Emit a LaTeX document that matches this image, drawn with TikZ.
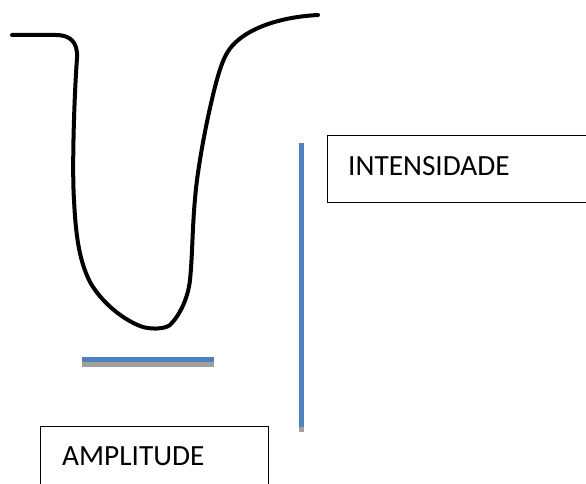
\documentclass[tikz,border=0pt]{standalone}
\usepackage{fontspec}
\setmainfont{Carlito}
\definecolor{barblue}{RGB}{79,129,189}
\definecolor{shadowgray}{RGB}{160,160,160}
\tikzset{
  curve/.style={line width=4pt, line cap=round, line join=round},
  label box/.style={draw=black, line width=1.3pt, anchor=north west, inner sep=0pt},
  label text/.style={anchor=base west, font=\fontsize{29.3}{33}\selectfont, inner sep=0pt},
  bar/.style={line width=5.5pt, barblue},
  barshadow/.style={line width=5.5pt, shadowgray},
}
\begin{document}
\begin{tikzpicture}[x=1pt,y=-1pt]
\useasboundingbox (0,0) rectangle (586,484);
% curve
\draw[curve] (12,35) -- (56,35)
  .. controls (70,35) and (78,42) .. (77,58)
  .. controls (74,100) and (72,170) .. (74,200)
  .. controls (76,240) and (80,262) .. (90,282)
  .. controls (100,300) and (120,318) .. (140,326)
  .. controls (150,330) and (165,329) .. (170,325)
  .. controls (180,315) and (188,298) .. (190,280)
  .. controls (193,250) and (192,220) .. (197,180)
  .. controls (201,150) and (207,120) .. (213,95)
  .. controls (219,70) and (224,55) .. (232,46)
  .. controls (248,28) and (280,17) .. (318,15);
% horizontal bar with shadow
\coordinate (hL) at (82,359.5);
\coordinate (hR) at (214,359.5);
\coordinate (hLs) at (82,364.5);
\coordinate (hRs) at (214,364.5);
\draw[barshadow] (hLs) -- (hRs);
\draw[bar] (hL) -- (hR);
% vertical bar with shadow
\coordinate (vT) at (301.5,143);
\coordinate (vB) at (301.5,427);
\coordinate (vTs) at (301.5,148);
\coordinate (vBs) at (301.5,432);
\draw[barshadow] (vTs) -- (vBs);
\draw[bar] (vT) -- (vB);
% boxes
\node[label box, minimum width=270pt, minimum height=67pt] (intbox) at (327,135) {};
\node[label text] (inttext) at (348,175) {INTENSIDADE};
\node[label box, minimum width=228pt, minimum height=70pt] (ampbox) at (40,426) {};
\node[label text] (amptext) at (62,465) {AMPLITUDE};
\end{tikzpicture}
\end{document}
